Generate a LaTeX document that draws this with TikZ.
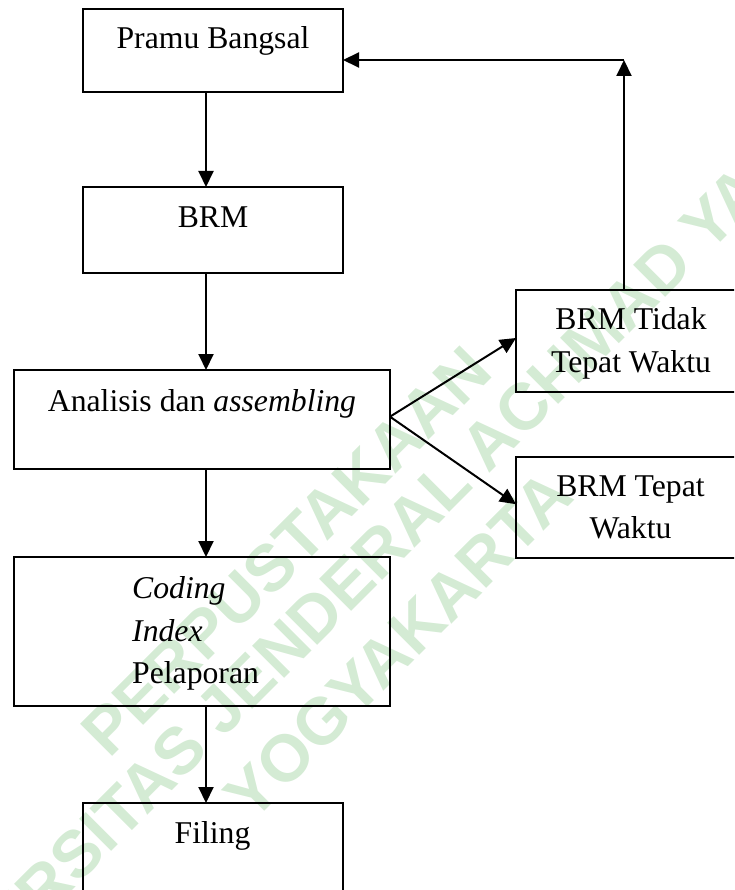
\documentclass[tikz,border=0pt]{standalone}
\usepackage{fontspec}
\setmainfont{Liberation Serif}
\newfontfamily\wmfont{Liberation Sans}
\usetikzlibrary{arrows.meta}
\definecolor{wmgreen}{RGB}{212,235,212}
\begin{document}
\begin{tikzpicture}[x=1pt,y=-1pt,
  box/.style={draw, rectangle, line width=2pt, inner sep=0pt, outer sep=0pt},
  arr/.style={line width=2pt, -{Triangle[length=16pt,width=15pt]}},
  txt/.style={anchor=base, inner sep=0pt, font=\fontsize{31.7}{43.5}\selectfont},
  wm/.style={text=wmgreen, rotate=45, inner sep=0pt, font=\wmfont\bfseries\fontsize{66}{72}\selectfont}]
\useasboundingbox (0,0) rectangle (734,890);
\clip (0,0) rectangle (734,890);
% watermark
\node[wm] (wm1) at (286.4,551) {PERPUSTAKAAN};
\node[wm] (wm2) at (342.3,588.4) {UNIVERSITAS JENDERAL ACHMAD YANI};
\node[wm] (wm3) at (398,645) {YOGYAKARTA};
% boxes
\node[box, minimum width=260pt, minimum height=83pt] (pramu) at (213,50.5) {};
\node[box, minimum width=260pt, minimum height=86pt] (brm) at (213,230) {};
\node[box, minimum width=376pt, minimum height=99pt] (anal) at (202,419.5) {};
\node[box, minimum width=376pt, minimum height=149pt] (coding) at (202,631.5) {};
\node[box, minimum width=260pt, minimum height=150pt] (filing) at (213,878) {};
\node[box, minimum width=230pt, minimum height=102pt] (tidak) at (631,341) {};
\node[box, minimum width=230pt, minimum height=101pt] (tepat) at (631,507.5) {};
% texts
\node[txt] (tpramu) at (213,49) {Pramu Bangsal};
\node[txt] (tbrm) at (213,228) {BRM};
\node[txt] (tanal) at (202,411.7) {Analisis dan \textit{assembling}};
\node[txt, anchor=base west] (tcod) at (132,598) {\textit{Coding}};
\node[txt, anchor=base west] (tidx) at (132,641) {\textit{Index}};
\node[txt, anchor=base west] (tpel) at (132,683) {Pelaporan};
\node[txt] (ttid1) at (631,329) {BRM Tidak};
\node[txt] (ttid2) at (631,372.7) {Tepat Waktu};
\node[txt] (ttep1) at (630.5,496.7) {BRM Tepat};
\node[txt] (ttep2) at (630.5,538) {Waktu};
\node[txt] (tfil) at (212.5,843) {Filing};
% connectors
\coordinate (ax) at (206,0);
\draw[arr] (ax |- pramu.south) -- (ax |- brm.north);
\draw[arr] (ax |- brm.south) -- (ax |- anal.north);
\draw[arr] (ax |- anal.south) -- (ax |- coding.north);
\draw[arr] (ax |- coding.south) -- (ax |- filing.north);
\draw[arr] ([yshift=2.8pt]anal.east) -- ([yshift=3pt]tidak.west);
\draw[arr] ([yshift=2.8pt]anal.east) -- ([yshift=3.3pt]tepat.west);
\coordinate (fb) at (624,60);
\draw[arr] (fb |- tidak.north) -- (fb);
\draw[arr] (fb) -- (fb -| pramu.east);
\end{tikzpicture}
\end{document}
